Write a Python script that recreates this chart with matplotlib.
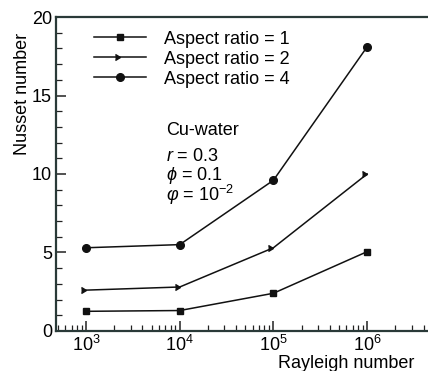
import matplotlib
matplotlib.use("Agg")
import matplotlib.pyplot as plt
from matplotlib.ticker import MultipleLocator, LogLocator, NullFormatter

plt.rcParams['font.family'] = ['Liberation Sans', 'DejaVu Sans']
plt.rcParams['mathtext.fontset'] = 'custom'
plt.rcParams['mathtext.rm'] = 'Liberation Sans'
plt.rcParams['mathtext.it'] = 'Liberation Sans:italic'
plt.rcParams['mathtext.fallback'] = 'cm'

# Rayleigh numbers and Nusselt numbers per aspect ratio
rayleigh = [1e3, 1e4, 1e5, 1e6]
nu_ar1 = [1.25, 1.3, 2.4, 5.05]
nu_ar2 = [2.6, 2.8, 5.3, 10.0]
nu_ar4 = [5.3, 5.5, 9.6, 18.1]
labels = ['Aspect ratio = 1', 'Aspect ratio = 2', 'Aspect ratio = 4']

fs = 13
fig = plt.figure(figsize=(4.28, 3.71), dpi=100)
ax = fig.add_axes([0.131, 0.108, 0.869, 0.846])

c = '#111111'
ax.plot(rayleigh, nu_ar1, '-s', color=c, lw=1.1, ms=4, label=labels[0])
ax.plot(rayleigh, nu_ar2, '-', marker=5, color=c, lw=1.1, ms=5, label=labels[1])
ax.plot(rayleigh, nu_ar4, '-o', color=c, lw=1.1, ms=5.5, label=labels[2])

ax.set_xscale('log')
ax.set_xlim(10**2.68, 10**6.65)
ax.set_ylim(0, 20)

ax.yaxis.set_major_locator(MultipleLocator(5))
ax.yaxis.set_minor_locator(MultipleLocator(1))
ax.xaxis.set_major_locator(LogLocator(base=10, numticks=10))
ax.xaxis.set_minor_locator(LogLocator(base=10, subs=range(2, 10), numticks=20))
ax.xaxis.set_minor_formatter(NullFormatter())

ax.tick_params(which='both', direction='in', labelsize=fs, color='#222222')
ax.tick_params(which='major', length=7, width=1.1)
ax.tick_params(which='minor', length=4, width=0.9)
ax.tick_params(axis='y', pad=3)
ax.tick_params(axis='x', pad=2.5)

for s in ['left', 'bottom', 'top']:
    ax.spines[s].set_linewidth(1.6)
    ax.spines[s].set_color('#2a3a38')
ax.spines['right'].set_visible(False)

ax.set_ylabel('Nusset number', fontsize=fs)
ax.yaxis.set_label_coords(-0.068, 0.755)
ax.set_xlabel('Rayleigh number', fontsize=fs)
ax.xaxis.set_label_coords(0.78, -0.076)

ax.legend(loc='upper left', bbox_to_anchor=(0.068, 0.997), frameon=False,
          fontsize=fs, handlelength=2.9, handletextpad=0.95,
          labelspacing=0.17, borderaxespad=0.3)

ax.text(0.296, 0.64, 'Cu-water', transform=ax.transAxes, fontsize=fs, va='center')
ax.text(0.296, 0.555, r'$r$ = 0.3', transform=ax.transAxes, fontsize=fs, va='center')
ax.text(0.296, 0.494, r'$\phi$ = 0.1', transform=ax.transAxes, fontsize=fs, va='center')
ax.text(0.296, 0.432, r'$\varphi$ = 10$^{-2}$', transform=ax.transAxes, fontsize=fs, va='center')

fig.savefig('out.png', dpi=100)
